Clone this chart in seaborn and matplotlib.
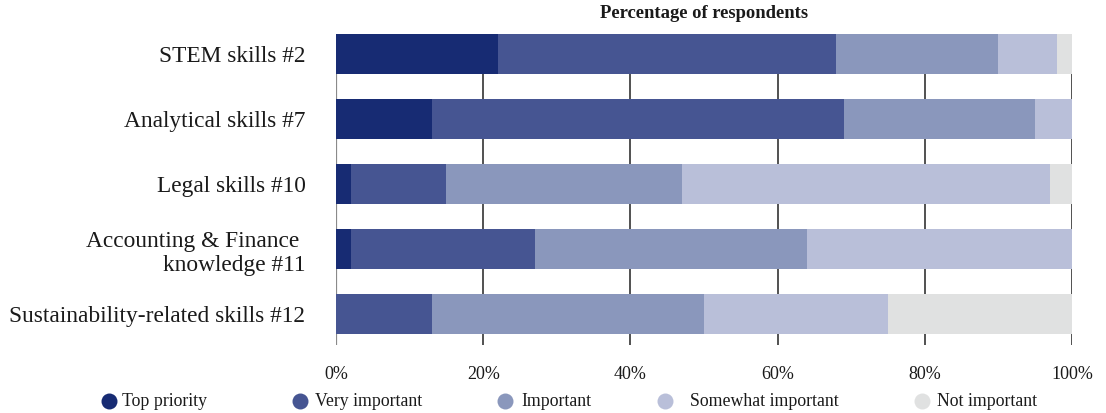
import matplotlib
matplotlib.use("Agg")
import matplotlib.pyplot as plt
from matplotlib.lines import Line2D
import numpy as np
import pandas as pd
import seaborn as sns

# Survey results: share of respondents per importance level (%)
skills = [
    "STEM skills #2",
    "Analytical skills #7",
    "Legal skills #10",
    "Accounting & Finance \nknowledge #11",
    "Sustainability-related skills #12",
]
levels = ["Top priority", "Very important", "Important", "Somewhat important", "Not important"]
top_priority = [22, 13, 2, 2, 0]
very_important = [46, 56, 13, 25, 13]
important = [22, 26, 32, 37, 37]
somewhat_important = [8, 5, 50, 36, 25]
not_important = [2, 0, 3, 0, 25]
x_ticks = [0, 20, 40, 60, 80, 100]
x_tick_labels = ["0%", "20%", "40%", "60%", "80%", "100%"]

colors = ["#172b73", "#465592", "#8a97bc", "#b9bfd9", "#e0e1e1"]

sns.set_theme(style="white")
plt.rcParams["font.family"] = ["Liberation Serif", "DejaVu Serif"]
text_color = "#1a1a1a"

series = [top_priority, very_important, important, somewhat_important, not_important]
cum = np.cumsum(np.array(series), axis=0)

fig = plt.figure(figsize=(11.06, 4.13), dpi=100)
ax = fig.add_axes([336 / 1106, (413 - 345) / 413, 736 / 1106, 311 / 413])

# Stack by overlaying cumulative totals, widest first
bar_h = 40 / 65
for i in range(len(levels) - 1, -1, -1):
    df = pd.DataFrame({"skill": skills, "value": cum[i]})
    sns.barplot(data=df, x="value", y="skill", orient="h", color=colors[i],
                width=bar_h, saturation=1, ax=ax, linewidth=0, zorder=2)

ax.set_xlim(0, 100)
ax.set_ylim(4 + bar_h / 2 + 11 / 65, -bar_h / 2)
ax.set_xlabel("")
ax.set_ylabel("")
for s in ax.spines.values():
    s.set_visible(False)

# Vertical reference lines behind the bars
for t in x_ticks:
    ax.axvline(t, color="#8a8a8a" if t == 0 else "#222222",
               lw=1.6 if t == 0 else 1.1, zorder=1)

ax.set_xticks(x_ticks)
ax.set_xticklabels(x_tick_labels, fontsize=13, color=text_color)
ax.tick_params(axis="x", length=0, pad=15)
ax.tick_params(axis="y", length=0, pad=22, labelsize=16.8, labelcolor=text_color)
for lab in ax.get_yticklabels():
    lab.set_multialignment("right")
    lab.set_linespacing(1.2)

fig.text(704 / 1106, 1 - 14 / 413, "Percentage of respondents", ha="center", va="center",
         fontsize=13.4, fontweight="bold", color=text_color)

# Legend row
marker_x = [109, 300, 505, 665, 922]
label_x = [122, 315, 521, 690, 937]
ly = 1 - 401 / 413
for mx, tx, c, name in zip(marker_x, label_x, colors, levels):
    fig.add_artist(Line2D([mx / 1106], [ly], marker="o", markersize=11.5, color=c,
                          markeredgewidth=0, linestyle="none", transform=fig.transFigure))
    fig.text(tx / 1106, ly, name, ha="left", va="center", fontsize=12.8, color=text_color)

fig.savefig("out.png", dpi=100)
